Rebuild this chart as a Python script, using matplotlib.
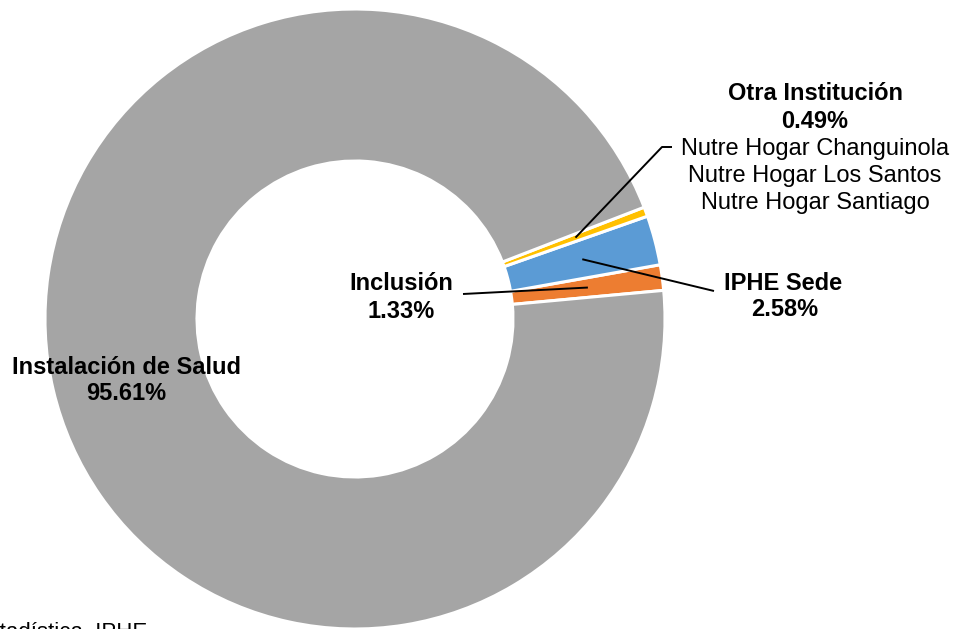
import numpy as np
import matplotlib
matplotlib.use('Agg')
import matplotlib.pyplot as plt

plt.rcParams['font.family'] = ['Liberation Sans', 'DejaVu Sans']

# data
labels = ["Inclusión", "IPHE Sede", "Otra Institución", "Instalación de Salud"]
values = [1.33, 2.58, 0.49, 95.61]
colors = ["#ED7D31", "#5B9BD5", "#FFC000", "#A5A5A5"]
otra_detail = ["Nutre Hogar Changuinola", "Nutre Hogar Los Santos", "Nutre Hogar Santiago"]
source = "Fuente: Estadística, IPHE"

W, H = 963, 629
fig = plt.figure(figsize=(W / 100, H / 100), dpi=100)
ax = fig.add_axes([0, 0, 1, 1])

cx, cy, R = 355, H - 319, 310
start = 5.3
wedges, _ = ax.pie(values, colors=colors, startangle=start, counterclock=True,
                   center=(cx, cy), radius=R,
                   wedgeprops=dict(width=152, edgecolor="white", linewidth=2.2))
ax.set_xlim(0, W)
ax.set_ylim(0, H)
ax.set_aspect("equal")
ax.axis("off")


def anchor(i, r=235):
    ang = np.deg2rad((wedges[i].theta1 + wedges[i].theta2) / 2)
    return cx + r * np.cos(ang), cy + r * np.sin(ang)


def label(x, y, txt, bold=True, size=17):
    # y is the pixel row from the top; nudge down a little for descender space
    ax.text(x, H - y - 2, txt, ha="center", va="center", fontsize=size,
            fontweight="bold" if bold else "normal", color="black")


line_kw = dict(color="black", lw=1.4, solid_capstyle="butt")

# Inclusión
label(401, 282, labels[0])
label(401, 310, f"{values[0]:.2f}%")
ax0 = anchor(0)
ax.plot([ax0[0], 463], [ax0[1], H - 294], **line_kw)

# IPHE Sede
label(783, 281, labels[1])
label(785, 308, f"{values[1]:.2f}%")
ax1 = anchor(1)
ax.plot([ax1[0], 714], [ax1[1], H - 291], **line_kw)

# Otra Institución
label(815, 92, labels[2])
label(815, 119, f"{values[2]:.2f}%")
for k, t in enumerate(otra_detail):
    label(815, 147 + 27 * k, t, bold=False)
ax2 = anchor(2)
ax.plot([ax2[0], 662, 672], [ax2[1], H - 147, H - 147], **line_kw)

# Instalación de Salud
label(126, 365, labels[3])
label(126, 392, f"{values[3]:.2f}%")

# source (partly cut off at the edge, as in the original)
ax.text(147, -9, source, ha="right", va="baseline", fontsize=16, color="black")

fig.savefig("out.png", dpi=100)
